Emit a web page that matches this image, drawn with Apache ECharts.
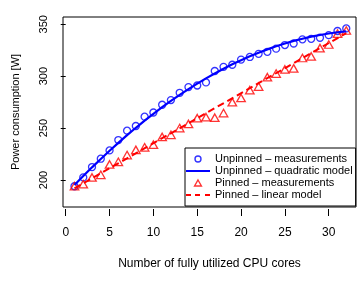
<!DOCTYPE html>
<html>
<head>
<meta charset="utf-8">
<script src="https://cdn.jsdelivr.net/npm/echarts@6/dist/echarts.min.js"></script>
<style>html,body{margin:0;padding:0;background:#fff;}#c{width:359px;height:281px;}</style>
</head>
<body>
<div id="c"></div>
<script>
var cores = [1,2,3,4,5,6,7,8,9,10,11,12,13,14,15,16,17,18,19,20,21,22,23,24,25,26,27,28,29,30,31,32];
var unpinnedMeas = [194,202.5,212.5,220.5,228.5,238.5,247.5,252,261,265,272.5,277,284,289.5,291,294,305,309,311,316,318.5,321.5,323.5,326.5,330,331.5,335.5,336,337,339.5,343.5,346];
var unpinnedModel = [195.1,203.8,212.2,220.3,228.2,235.8,243.2,250.3,257.2,263.8,270.1,276.2,282.0,287.5,292.8,297.9,302.6,307.1,311.4,315.4,319.1,322.6,325.8,328.8,331.5,334.0,336.1,338.1,339.7,341.1,342.3,343.2];
var pinnedMeas = [194,196,202.5,205,215,217.5,224,229,231.5,234,241.5,243.5,250,254,259.5,260.5,260,264.5,275,279,286.5,290,299,302.5,306.5,307.5,317.5,319,327,330.5,341,344];
var pinnedModelX = [1,32];
var pinnedModelY = [192,341.5];
var xTicks = [0,5,10,15,20,25,30];
var yTicks = [200,250,300,350];
var names = ['Unpinned \u2013 measurements','Unpinned \u2013 quadratic model','Pinned \u2013 measurements','Pinned \u2013 linear model'];

function pairs(xs, ys){ return xs.map(function(x,i){ return [x, ys[i]]; }); }

var font = 'Liberation Sans, Arial, Helvetica, sans-serif';
var chart = echarts.init(document.getElementById('c'), null, {renderer:'canvas'});
chart.setOption({
  animation:false,
  backgroundColor:'#fff',
  grid:{left:63, top:17, width:293, height:190, show:true, borderColor:'#000', borderWidth:1, backgroundColor:'transparent'},
  xAxis:{
    type:'value', min:-0.31, max:33.11, offset:2,
    axisLine:{show:false},
    axisTick:{show:true, length:7, customValues:xTicks, lineStyle:{color:'#000', width:1}},
    axisLabel:{customValues:xTicks, fontSize:12, fontFamily:font, color:'#000', margin:18, lineHeight:12},
    splitLine:{show:false},
    name:'Number of fully utilized CPU cores', nameLocation:'middle', nameGap:48,
    nameTextStyle:{fontSize:12, fontFamily:font, color:'#000', lineHeight:14}
  },
  yAxis:{
    type:'value', min:174, max:357,
    axisLine:{show:false},
    axisTick:{show:true, length:5, customValues:yTicks, lineStyle:{color:'#000', width:1}},
    axisLabel:{customValues:yTicks, rotate:90, fontSize:11, fontFamily:font, color:'#000', margin:13, lineHeight:12},
    splitLine:{show:false},
    name:'Power consumption [W]', nameLocation:'middle', nameGap:41, nameRotate:90,
    nameTextStyle:{fontSize:11, fontFamily:font, color:'#000', lineHeight:13}
  },
  legend:{
    orient:'vertical', left:185, top:148, itemWidth:24, itemHeight:6, itemGap:0,
    padding:[5,3,5,1], borderColor:'#000', borderWidth:1, backgroundColor:'#fff', borderRadius:0,
    selectedMode:false, symbolKeepAspect:true,
    textStyle:{fontSize:11, fontFamily:font, color:'#000', lineHeight:12},
    data:[
      {name:names[0], icon:'circle', itemStyle:{color:'rgba(255,255,255,0)', borderColor:'#0000ff', borderWidth:1.4}},
      {name:names[1], icon:'path://M0,0H24V2H0Z', itemStyle:{color:'#0000ff', borderWidth:0}},
      {name:names[2], icon:'path://M4,0L8,7H0Z', itemStyle:{color:'rgba(255,255,255,0)', borderColor:'#ff0000', borderWidth:1.4}},
      {name:names[3], icon:'path://M0,0H5V2H0Z M9,0H14V2H9Z M19,0H24V2H19Z', itemStyle:{color:'#ff0000', borderWidth:0}}
    ]
  },
  series:[
    {name:names[0], type:'scatter', data:pairs(cores, unpinnedMeas), symbol:'circle', symbolSize:7,
     itemStyle:{color:'rgba(255,255,255,0)', borderColor:'#0000ff', borderWidth:1.3}},
    {name:names[2], type:'scatter', data:pairs(cores, pinnedMeas), symbol:'triangle', symbolSize:[8.5,7.5],
     itemStyle:{color:'rgba(255,255,255,0)', borderColor:'#ff0000', borderWidth:1.3}},
    {name:names[1], type:'line', data:pairs(cores, unpinnedModel), symbol:'none', smooth:false,
     lineStyle:{color:'#0000ff', width:2.2}, itemStyle:{color:'#0000ff'}},
    {name:names[3], type:'line', data:pairs(pinnedModelX, pinnedModelY), symbol:'none',
     lineStyle:{color:'#ff0000', width:2, type:[7,4]}, itemStyle:{color:'#ff0000'}}
  ]
});
</script>
</body>
</html>
